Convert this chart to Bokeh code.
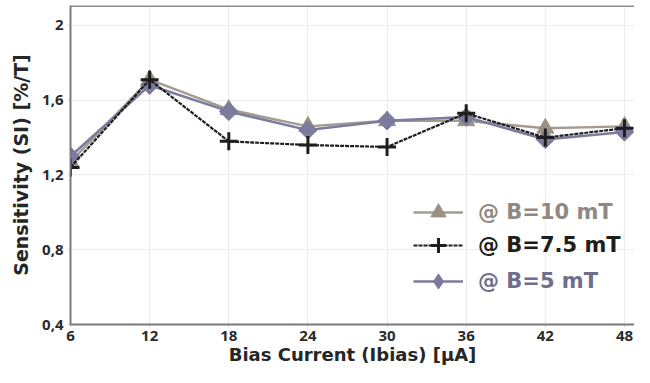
import math
from bokeh.plotting import figure
from bokeh.models import (Range1d, FixedTicker, Legend, LegendItem, ColumnDataSource, Span)
from bokeh.embed import file_html
from bokeh.resources import INLINE

# ---------------- data ----------------
bias_current = [6, 12, 18, 24, 30, 36, 42, 48]
sens_10mT = [1.27, 1.71, 1.55, 1.46, 1.49, 1.49, 1.45, 1.46]
sens_7_5mT = [1.24, 1.71, 1.38, 1.36, 1.35, 1.53, 1.40, 1.45]
sens_5mT = [1.30, 1.68, 1.54, 1.44, 1.49, 1.51, 1.39, 1.43]
x_ticks = [6, 12, 18, 24, 30, 36, 42, 48]
y_ticks = [0.4, 0.8, 1.2, 1.6, 2.0]
y_tick_labels = ["0,4", "0,8", "1,2", "1,6", "2"]
series_names = ["@ B=10 mT", "@ B=7.5 mT", "@ B=5 mT"]
x_title = "Bias Current (Ibias) [µA]"
y_title = "Sensitivity (SI) [%/T]"

# ---------------- layout ----------------
W, H = 634, 367
X0, X1 = 6, 48.76
Y0, Y1 = 0.4, 2.1067

p = figure(width=W, height=H, output_backend="svg", toolbar_location=None,
           x_range=Range1d(X0, X1), y_range=Range1d(Y0, Y1),
           min_border_left=70, min_border_bottom=42, min_border_right=0, min_border_top=5,
           background_fill_color="white", border_fill_color="white")

p.outline_line_color = None
p.add_layout(Span(location=Y1, dimension="width", line_color="#8a8a8a", line_width=3))

for ax in (p.xaxis[0], p.yaxis[0]):
    ax.axis_line_color = "#7a7a7a"
    ax.axis_line_width = 2
    ax.major_tick_line_color = "#9a9a9a"
    ax.major_tick_out = 2
    ax.major_tick_in = 0
    ax.minor_tick_line_color = None
    ax.major_label_text_font = "Open Sans"
    ax.major_label_text_font_style = "bold"
    ax.major_label_text_font_size = "15px"
    ax.major_label_text_color = "#2b2b2b"
    ax.axis_label_text_font = "DejaVu Sans"
    ax.axis_label_text_font_style = "bold"
    ax.axis_label_text_color = "#262626"

p.xaxis.ticker = FixedTicker(ticks=x_ticks)
p.yaxis.ticker = FixedTicker(ticks=y_ticks)
p.yaxis.major_label_overrides = {t: l for t, l in zip(y_ticks, y_tick_labels)}
p.xaxis.major_label_standoff = 4
p.yaxis.major_label_standoff = 5

p.xaxis.axis_label = x_title
p.xaxis.axis_label_text_font_size = "18px"
p.xaxis.axis_label_standoff = 0
p.yaxis.axis_label = y_title
p.yaxis.axis_label_text_font_size = "19px"
p.yaxis.axis_label_standoff = 7

p.xgrid.grid_line_color = "#ececec"
p.ygrid.grid_line_color = "#ececec"
p.xgrid.grid_line_width = 1.2
p.ygrid.grid_line_width = 1.2

src = ColumnDataSource(dict(x=bias_current, a=sens_10mT, b=sens_7_5mT, c=sens_5mT))

c10 = "#9b9182"
c75 = "#1e1e1e"
c5 = "#7b7b9d"

l10 = p.line("x", "a", source=src, line_color="#a39b90", line_width=2.5)
s10 = p.scatter("x", "a", source=src, marker="triangle", size=17, fill_color=c10, line_color=c10)
l5 = p.line("x", "c", source=src, line_color=c5, line_width=2.5)
s5 = p.scatter("x", "c", source=src, marker="square", angle=math.pi / 4, size=13,
               fill_color=c5, line_color=c5)
l75 = p.line("x", "b", source=src, line_color=c75, line_width=2.2, line_dash="4 1")
s75 = p.scatter("x", "b", source=src, marker="cross", size=18, line_color=c75, line_width=3)

# hidden diamond rendering of the 5 mT series, used only for its legend glyph
# (the legend ignores the marker angle of the rotated squares above)
legend_diamond = p.scatter("x", "c", source=src, marker="diamond", size=20,
                           fill_color=c5, line_color=c5, visible=False)

# ---------------- legends (one per series for per-item text colour) ----------------
legend_specs = [
    (series_names[0], [l10, s10], "#8f8982", 93),
    (series_names[1], [l75, s75], "#1e1e1e", 60),
    (series_names[2], [l5, legend_diamond], "#6f6f8d", 24),
]
for name, rends, tcol, ybot in legend_specs:
    lg = Legend(items=[LegendItem(label=name, renderers=rends)],
                location=(343, ybot), orientation="vertical",
                padding=0, margin=0, spacing=0,
                glyph_width=50, glyph_height=38, label_height=38,
                label_standoff=15,
                label_text_font="DejaVu Sans", label_text_font_style="bold",
                label_text_font_size="21px", label_text_color=tcol,
                label_text_baseline="middle",
                border_line_color=None, background_fill_alpha=0.0)
    p.add_layout(lg, "center")

open("out.html", "w").write(file_html(p, INLINE))
